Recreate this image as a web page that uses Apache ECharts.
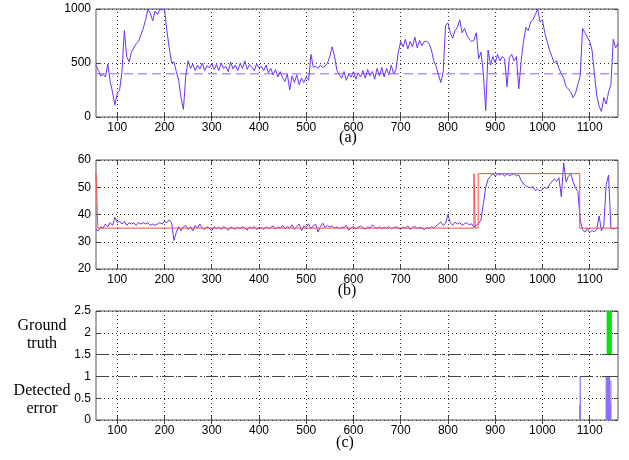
<!DOCTYPE html>
<html><head><meta charset="utf-8">
<script src="https://cdn.jsdelivr.net/npm/echarts@6/dist/echarts.min.js"></script>
<style>html,body{margin:0;padding:0;background:#fff}#c{width:629px;height:460px}</style>
</head><body><div id="c"></div>
<script>
// ---------- data ----------
const X_MIN = 55, X_MAX = 1160;
const sampleStart = 55, sampleStep = 5;
const xTickValues = [100,200,300,400,500,600,700,800,900,1000,1100];

// panel (a): measured signal and its threshold
const signalA = [
  480,430,380,395,370,490,330,230,110,220,
  250,420,800,560,510,600,640,680,700,760,
  820,900,1000,960,890,980,950,1000,990,1000,
  800,640,500,510,420,340,180,70,380,520,
  450,490,430,480,445,500,430,475,455,495,
  440,485,430,500,450,470,420,510,445,480,
  430,495,450,520,440,485,460,430,490,455,
  470,430,480,410,450,390,440,370,420,360,
  330,400,250,380,320,390,300,360,320,370,
  340,580,460,470,450,480,460,470,500,560,
  650,560,430,390,360,420,340,400,370,420,
  350,410,370,430,360,440,380,420,350,450,
  380,460,370,450,390,480,400,440,600,700,
  650,720,630,700,650,740,640,710,660,700,
  700,680,620,520,470,390,320,420,850,870,
  780,730,800,830,900,780,820,760,720,700,
  710,780,540,600,400,60,620,480,560,500,
  580,520,560,540,280,550,580,520,560,260,
  520,700,830,800,880,900,950,1000,880,900,
  780,700,620,560,500,520,450,400,360,280,
  260,230,180,220,300,380,820,780,740,700,
  620,400,200,100,50,180,120,230,300,720,
  640,680
];
const thresholdA = 400;

// panel (b): estimated value and reference step
const signalB = [
  34.5,34,35.5,35,36.5,35.5,37,36,39,37,
  37.5,36.5,37.5,36,37,36.5,37,36,37,36.5,
  37,36.5,37,36,36.5,36,36.5,37,36.5,37.5,
  37,38,37,30.5,33.5,35.5,34,35.5,36,34.5,
  35.5,34,36,35,36.5,35,34.5,35.5,35,34,
  35.5,34.8,35.3,34.5,35.6,35,34.2,35.4,35,34.6,
  35.3,34.8,35.5,35,34.3,35.4,34.9,35.6,34.5,35.2,
  35,34.6,35.5,34.8,35.3,35.8,34.7,35.4,35,36,
  34.8,35.5,35,36.2,34.5,35.6,36.5,34,35.8,35.2,
  36.6,34.8,35.9,36.4,33.6,35.5,36.8,35.2,36,35.4,
  35.8,35,35.5,34.8,35.4,35.2,36,34.2,35.1,35.6,
  34.7,35.3,35.8,35,34.6,35.4,35,36.2,35.3,34.9,
  35.5,34.8,35.3,35,35.6,34.7,35.2,35.5,35,34.6,
  35.4,35,35.8,34.5,35.2,35.6,34.9,35.3,35,34.4,
  35.2,34.8,35.5,35,35.8,36.5,37.2,36,36.8,40,
  37,36,37.2,36.5,37,36,36.6,37,36.2,36.6,
  35.4,36,36.8,38,44,50,53,54,55,54,
  55,54.5,55.2,54,55,54.3,54.6,55,54.2,54.5,
  52.5,51.2,50.5,50,49.8,50.2,48.8,49.3,48.6,49.2,
  50,49.5,51,52,53,52.2,53.5,46.5,59,52,
  54,55,52,49.7,48.5,38,34.5,33.5,34.8,33.3,
  34.2,33.6,34.6,39.5,34,36,51,54.5,35,34.6,
  35,35
];
const refStepX = [55,59,59,855,855,858,858,864,864,1079,1079,1160];
const refStepY = [55,55,35,35,55,55,35,35,55,55,35,35];

// panel (c): ground truth span and detected error pulses
const groundTruthStart = [1136];
const groundTruthEnd   = [1147];
const groundTruthLow = 1.5, groundTruthHigh = 2.5;
const detectedX = [1079,1080,1135,1136.5,1137,1138,1139.5,1140,1142,1144,1145];
const detectedH = [0.35,1,1,0.5,1,1,0.6,1,1,0.4,0.9];
const baselineLevels = [1, 1.5];

// ---------- chart ----------
const FONT = 'Liberation Sans';
const SERIF = 'Liberation Serif';
const BLUE = '#6a33f5';
const GRID_STYLE = {type:[1,3], color:'#333', width:1};
const toXY = arr => arr.map((v,i)=>[sampleStart + i*sampleStep, v]);
const plain = v => String(v);

const grids = [
  {left:96, top:9,   width:522, height:108},
  {left:96, top:160, width:522, height:109},
  {left:96, top:311, width:522, height:109}
].map(g => Object.assign(g, {show:true, borderColor:'#555', borderWidth:1, backgroundColor:'transparent'}));

function xAx(gi, pos, showLabel){
  return {type:'value', gridIndex:gi, position:pos, min:X_MIN, max:X_MAX,
    axisLine:{show:false},
    axisTick:{show:true, inside:true, length:4, customValues:xTickValues, lineStyle:{color:'#444'}},
    axisLabel:{show:showLabel, customValues:xTickValues, formatter:plain, color:'#000', fontFamily:FONT, fontSize:12, margin:5},
    splitLine:{show:false}};
}
function yAx(gi, pos, min, max, interval, showLabel){
  return {type:'value', gridIndex:gi, position:pos, min, max, interval,
    axisLine:{show:false},
    axisTick:{show:true, inside:true, length:4, lineStyle:{color:'#444'}},
    axisLabel:{show:showLabel, formatter:plain, color:'#000', fontFamily:FONT, fontSize:12, margin:5},
    splitLine:{show:showLabel, lineStyle:GRID_STYLE}};
}
const xAxis = [xAx(0,'bottom',true), xAx(1,'bottom',true), xAx(2,'bottom',true),
               xAx(0,'top',false), xAx(1,'top',false), xAx(2,'top',false)];
const yAxis = [yAx(0,'left',0,1000,500,true), yAx(1,'left',20,60,10,true), yAx(2,'left',0,2.5,0.5,true),
               yAx(0,'right',0,1000,500,false), yAx(1,'right',20,60,10,false), yAx(2,'right',0,2.5,0.5,false)];

function gridLines(i){
  return {type:'line', xAxisIndex:i, yAxisIndex:i, data:[], z:1, silent:true,
    markLine:{silent:true, symbol:'none', label:{show:false}, lineStyle:GRID_STYLE,
      data: xTickValues.map(v=>({xAxis:v}))}};
}

const series = [
  gridLines(0), gridLines(1), gridLines(2),
  {type:'line', xAxisIndex:0, yAxisIndex:0, data:[[X_MIN,thresholdA],[X_MAX,thresholdA]], showSymbol:false, z:2,
    lineStyle:{color:'#8c62ff', width:1, type:[9,5]}},
  {type:'line', xAxisIndex:0, yAxisIndex:0, data:toXY(signalA), showSymbol:false, z:3,
    lineStyle:{color:BLUE, width:1}},
  {type:'line', xAxisIndex:1, yAxisIndex:1, data:toXY(signalB), showSymbol:false, z:3,
    lineStyle:{color:BLUE, width:1}},
  {type:'line', xAxisIndex:1, yAxisIndex:1, data:refStepX.map((x,i)=>[x,refStepY[i]]), showSymbol:false, z:4,
    lineStyle:{color:'#ff4a4a', width:1}},
  {type:'line', xAxisIndex:2, yAxisIndex:2, data:[], z:2, silent:true,
    markLine:{silent:true, symbol:'none', label:{show:false},
      lineStyle:{color:'#444', width:1, type:[12,4,2,4]},
      data: baselineLevels.map(v=>({yAxis:v}))}},
  {type:'custom', xAxisIndex:2, yAxisIndex:2, z:3,
    data: groundTruthStart.map((s,i)=>[s, groundTruthEnd[i], groundTruthLow, groundTruthHigh]),
    encode:{x:[0,1], y:[2,3]},
    renderItem:(params, api)=>{
      const p1 = api.coord([api.value(0), api.value(3)]);
      const p2 = api.coord([api.value(1), api.value(2)]);
      return {type:'rect', shape:{x:p1[0], y:p1[1], width:p2[0]-p1[0], height:p2[1]-p1[1]},
        style:{fill:'#00e600'}};
    }},
  {type:'custom', xAxisIndex:2, yAxisIndex:2, z:3,
    data: detectedX.map((x,i)=>[x, detectedH[i]]),
    encode:{x:0, y:1},
    renderItem:(params, api)=>{
      const a = api.coord([api.value(0), 0]);
      const b = api.coord([api.value(0), api.value(1)]);
      return {type:'line', shape:{x1:a[0], y1:a[1], x2:b[0], y2:b[1]},
        style:{stroke:'#8f6cff', lineWidth:1.2}};
    }}
];

const txt = (t, x, y, size) => ({type:'text', x, y, silent:true,
  style:{text:t, fill:'#000', font:`${size}px "${SERIF}"`, textAlign:'center', textVerticalAlign:'middle'}});

const chart = echarts.init(document.getElementById('c'), null, {renderer:'canvas'});
chart.setOption({
  animation:false,
  backgroundColor:'#fff',
  grid:grids, xAxis, yAxis, series,
  graphic:[
    txt('(a)', 348, 138, 16), txt('(b)', 347, 291, 16), txt('(c)', 345, 443, 16),
    txt('Ground', 42, 326, 16), txt('truth', 42, 344, 16),
    txt('Detected', 42, 391, 16), txt('error', 42, 409, 16)
  ]
});
</script></body></html>
